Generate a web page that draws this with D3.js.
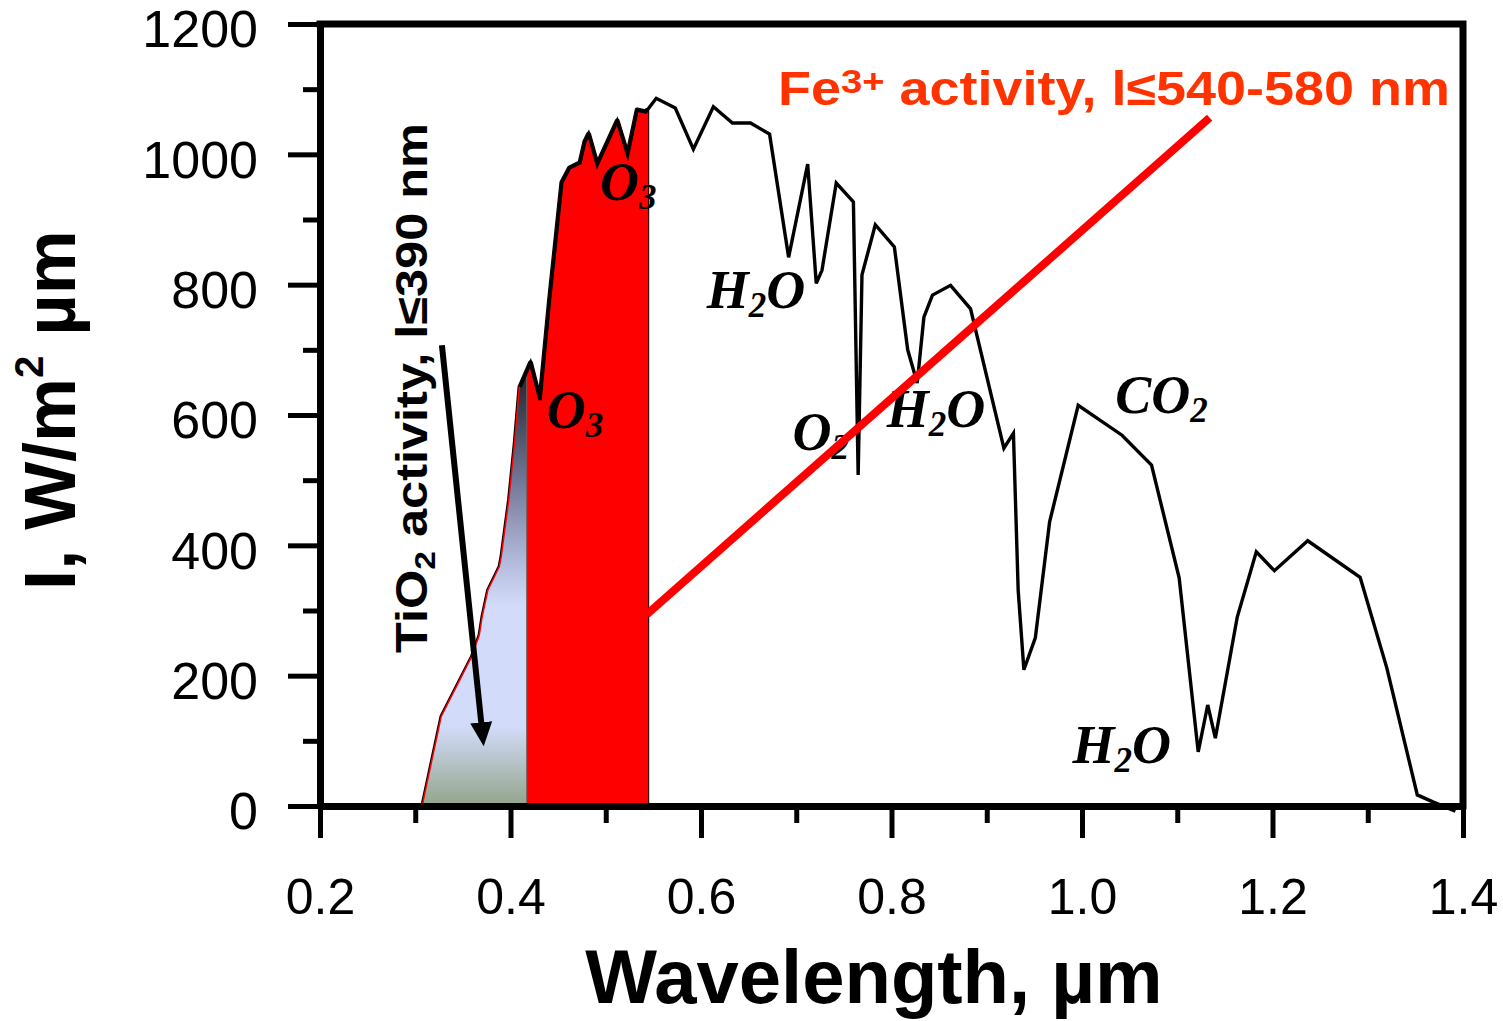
<!DOCTYPE html>
<html>
<head>
<meta charset="utf-8">
<script src="https://cdn.jsdelivr.net/npm/d3@7"></script>
<style>
  body { margin: 0; background: #fff; }
  svg { display: block; }
</style>
</head>
<body>
<div id="chart"></div>
<script>
// solar irradiance at ground level
const wavelength = [0.308, 0.328, 0.336, 0.360, 0.368, 0.371, 0.377, 0.389, 0.391, 0.399,
  0.405, 0.410, 0.421, 0.431, 0.441, 0.454, 0.462, 0.473, 0.478, 0.482,
  0.491, 0.512, 0.523, 0.533, 0.542, 0.553, 0.573, 0.592, 0.613, 0.633,
  0.652, 0.672, 0.692, 0.712, 0.721, 0.727, 0.742, 0.760, 0.765, 0.769,
  0.783, 0.803, 0.817, 0.827, 0.834, 0.843, 0.862, 0.883, 0.918, 0.928,
  0.933, 0.939, 0.951, 0.966, 0.996, 1.042, 1.073, 1.102, 1.122, 1.132,
  1.140, 1.163, 1.183, 1.202, 1.237, 1.292, 1.320, 1.352, 1.369, 1.392];
const irradiance = [0, 137, 160, 229, 262, 290, 331, 367, 382, 470,
  557, 643, 680, 623, 776, 957, 979, 987, 1019, 1031,
  984, 1051, 999, 1068, 1065, 1086, 1071, 1008, 1073, 1048,
  1048, 1031, 842, 985, 802, 822, 956, 927, 508, 815,
  892, 858, 700, 649, 750, 784, 799, 763, 549, 572,
  331, 209, 258, 436, 615, 569, 523, 350, 83, 155,
  104, 290, 390, 361, 407, 351, 212, 17, 6, -8];

const xTicks = [0.2, 0.4, 0.6, 0.8, 1.0, 1.2, 1.4];
const xMinor = [0.3, 0.5, 0.7, 0.9, 1.1, 1.3];
const yTicks = [0, 200, 400, 600, 800, 1000, 1200];
const yMinor = [100, 300, 500, 700, 900, 1100];

// band edges (µm)
const tio2Edge = 0.417;
const feEdge = 0.543;

// absorber labels
const absorbers = [
  { name: "O", sub: "3", l: 0.494, v: 930 },
  { name: "O", sub: "3", l: 0.438, v: 580 },
  { name: "H", sub: "2", after: "O", l: 0.606, v: 764 },
  { name: "O", sub: "2", l: 0.696, v: 546 },
  { name: "H", sub: "2", after: "O", l: 0.795, v: 582 },
  { name: "CO", sub: "2", l: 1.035, v: 603 },
  { name: "H", sub: "2", after: "O", l: 0.990, v: 66 }
];

const width = 1503, height = 1021;
const sans = "'Liberation Sans', Arial, sans-serif";
const serif = "'Liberation Serif', 'Times New Roman', serif";

const spectrum = wavelength.map((l, i) => ({ l: l, v: irradiance[i] }));

function interp(l) {
  const i = d3.bisectLeft(wavelength, l);
  const t = (l - wavelength[i - 1]) / (wavelength[i] - wavelength[i - 1]);
  return irradiance[i - 1] + t * (irradiance[i] - irradiance[i - 1]);
}
function band(edge) {
  return spectrum.filter(d => d.l < edge).concat([{ l: edge, v: interp(edge) }]);
}

const svg = d3.select("#chart")
  .append("svg")
  .attr("width", width)
  .attr("height", height);

svg.append("rect").attr("width", width).attr("height", height).attr("fill", "#fff");

const x = d3.scaleLinear().domain([0.2, 1.4]).range([320, 1463]);
const y = d3.scaleLinear().domain([0, 1200]).range([806, 24]);

const defs = svg.append("defs");
const grad = defs.append("linearGradient")
  .attr("id", "uvGrad")
  .attr("gradientUnits", "userSpaceOnUse")
  .attr("x1", 0).attr("x2", 0)
  .attr("y1", y(680)).attr("y2", y(0));
[[0, "#1c1c20"], [0.25, "#6c7190"], [0.45, "#b3bbdc"], [0.55, "#d2dcfa"],
 [0.82, "#d2dcfa"], [1, "#93a48a"]].forEach(s => {
  grad.append("stop").attr("offset", s[0]).attr("stop-color", s[1]);
});

const area = d3.area()
  .x(d => x(d.l))
  .y0(y(0))
  .y1(d => y(d.v));

const line = d3.line()
  .x(d => x(d.l))
  .y(d => y(d.v));

// Fe3+ band (red) with thin black rim
const feBand = band(feEdge);
svg.append("path")
  .attr("d", area(feBand))
  .attr("fill", "none")
  .attr("stroke", "#000")
  .attr("stroke-width", 5)
  .attr("stroke-linejoin", "round");
svg.append("path")
  .attr("d", area(feBand))
  .attr("fill", "#ff0000")
  .attr("stroke", "#ff0000")
  .attr("stroke-width", 3)
  .attr("stroke-linejoin", "round");

// TiO2 band (gradient)
const uvBand = band(tio2Edge);
svg.append("path")
  .attr("d", area(uvBand))
  .attr("fill", "url(#uvGrad)");
svg.append("line")
  .attr("x1", x(tio2Edge)).attr("x2", x(tio2Edge))
  .attr("y1", y(0)).attr("y2", y(interp(tio2Edge)))
  .attr("stroke", "#666")
  .attr("stroke-width", 1);

// spectrum line
svg.append("path")
  .datum(spectrum.filter(d => d.l >= 0.41))
  .attr("d", line)
  .attr("fill", "none")
  .attr("stroke", "#000")
  .attr("stroke-width", 3.4)
  .attr("stroke-linejoin", "miter");

// absorber labels
absorbers.forEach(a => {
  const t = svg.append("text")
    .attr("x", x(a.l))
    .attr("y", y(a.v))
    .attr("font-family", serif)
    .attr("font-weight", "bold")
    .attr("font-style", "italic")
    .attr("font-size", 54)
    .attr("fill", "#000");
  t.append("tspan").text(a.name);
  t.append("tspan").attr("font-size", 35).attr("dy", 9).text(a.sub);
  if (a.after) t.append("tspan").attr("dy", -9).text(a.after);
});

// Fe3+ pointer line
svg.append("line")
  .attr("x1", x(feEdge)).attr("y1", y(294))
  .attr("x2", x(1.134)).attr("y2", y(1056))
  .attr("stroke", "#ff0000")
  .attr("stroke-width", 8);

// TiO2 arrow
defs.append("marker")
  .attr("id", "head")
  .attr("markerUnits", "userSpaceOnUse")
  .attr("viewBox", "0 0 24 24")
  .attr("markerWidth", 24).attr("markerHeight", 24)
  .attr("refX", 16).attr("refY", 12)
  .attr("orient", "auto")
  .append("path")
  .attr("d", "M0,1L24,12L0,23Z")
  .attr("fill", "#000");
svg.append("line")
  .attr("x1", x(0.328)).attr("y1", y(707))
  .attr("x2", x(0.371)).attr("y2", y(104))
  .attr("stroke", "#000")
  .attr("stroke-width", 6)
  .attr("marker-end", "url(#head)");

// axes
function styleAxis(g, fontSize) {
  g.attr("font-family", sans).attr("font-size", fontSize);
  g.selectAll(".tick line").attr("stroke", "#000").attr("stroke-width", 5);
  g.selectAll(".tick text").attr("fill", "#000");
  g.select(".domain").attr("stroke", "#000").attr("stroke-width", 7);
}

svg.append("g")
  .attr("transform", `translate(0,${y(0)})`)
  .call(d3.axisBottom(x).tickValues(xMinor).tickSize(17).tickFormat(""))
  .call(g => g.select(".domain").remove())
  .call(g => g.selectAll(".tick line").attr("stroke", "#000").attr("stroke-width", 5));
svg.append("g")
  .attr("transform", `translate(${x(0.2)},0)`)
  .call(d3.axisLeft(y).tickValues(yMinor).tickSize(17).tickFormat(""))
  .call(g => g.select(".domain").remove())
  .call(g => g.selectAll(".tick line").attr("stroke", "#000").attr("stroke-width", 5));

svg.append("g")
  .attr("transform", `translate(0,${y(0)})`)
  .call(d3.axisBottom(x).tickValues(xTicks).tickSize(32).tickSizeOuter(0)
    .tickPadding(40).tickFormat(d3.format(".1f")))
  .call(g => styleAxis(g, 50));

svg.append("g")
  .attr("transform", `translate(${x(0.2)},0)`)
  .call(d3.axisLeft(y).tickValues(yTicks).tickSize(32).tickSizeOuter(0)
    .tickPadding(30).tickFormat(d3.format("d")))
  .call(g => styleAxis(g, 52))
  .call(g => g.selectAll(".tick text").attr("dy", "0.44em"));

// frame top and right
svg.append("path")
  .attr("d", `M${x(0.2)},${y(1200)}H${x(1.4)}V${y(0)}`)
  .attr("fill", "none")
  .attr("stroke", "#000")
  .attr("stroke-width", 7)
  .attr("stroke-linecap", "square");

// axis titles
svg.append("text")
  .attr("x", 874).attr("y", 1003)
  .attr("text-anchor", "middle")
  .attr("font-family", sans)
  .attr("font-weight", "bold")
  .attr("font-size", 76)
  .text("Wavelength, µm");

const yTitle = svg.append("text")
  .attr("transform", "translate(75,410) rotate(-90)")
  .attr("text-anchor", "middle")
  .attr("font-family", sans)
  .attr("font-weight", "bold")
  .attr("font-size", 72);
yTitle.append("tspan").text("I, W/m");
yTitle.append("tspan").attr("font-size", 40).attr("dy", -32).text("2");
yTitle.append("tspan").attr("dy", 32).text(" µm");

// band captions
const feText = svg.append("text")
  .attr("x", 778).attr("y", 105)
  .attr("font-family", sans)
  .attr("font-weight", "bold")
  .attr("font-size", 48)
  .attr("fill", "#ff3300")
  .attr("textLength", 672)
  .attr("lengthAdjust", "spacingAndGlyphs");
feText.append("tspan").text("Fe");
feText.append("tspan").attr("font-size", 34).attr("dy", -12).text("3+");
feText.append("tspan").attr("dy", 12).text(" activity, l≤540-580 nm");

const tiText = svg.append("text")
  .attr("transform", "translate(427,388) rotate(-90)")
  .attr("text-anchor", "middle")
  .attr("font-family", sans)
  .attr("font-weight", "bold")
  .attr("font-size", 45)
  .attr("fill", "#000")
  .attr("textLength", 530)
  .attr("lengthAdjust", "spacingAndGlyphs");
tiText.append("tspan").text("TiO");
tiText.append("tspan").attr("font-size", 30).attr("dy", 8).text("2");
tiText.append("tspan").attr("dy", -8).text(" activity, l≤390 nm");
</script>
</body>
</html>
